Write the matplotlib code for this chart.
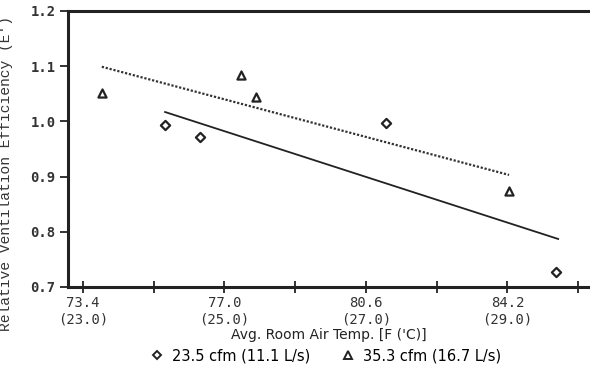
import matplotlib.pyplot as plt
from matplotlib.lines import Line2D

# Data
temp_low_flow = [75.49, 76.38, 81.10, 85.44]
eff_low_flow = [0.993, 0.972, 0.997, 0.727]
temp_high_flow = [73.88, 77.43, 77.81, 84.24]
eff_high_flow = [1.051, 1.084, 1.044, 0.874]

fit_low_x = [75.49, 85.49]
fit_low_y = [1.017, 0.787]
fit_high_x = [73.88, 84.24]
fit_high_y = [1.099, 0.903]

x_ticks = [73.4, 75.2, 77.0, 78.8, 80.6, 82.4, 84.2, 86.0]
x_tick_labels = ["73.4\n(23.0)", "", "77.0\n(25.0)", "", "80.6\n(27.0)", "",
                 "84.2\n(29.0)", ""]
y_ticks = [0.7, 0.8, 0.9, 1.0, 1.1, 1.2]
y_tick_labels = ["0.7", "0.8", "0.9", "1.0", "1.1", "1.2"]

label_low = "23.5 cfm (11.1 L/s)"
label_high = "35.3 cfm (16.7 L/s)"

plt.rcParams["font.family"] = ["DejaVu Sans Mono"]

fig = plt.figure(figsize=(5.9, 3.74), dpi=100)
ax = fig.add_axes([68 / 590, 1 - 287 / 374, 522 / 590, 276 / 374])

ax.plot(fit_high_x, fit_high_y, color="#333333", lw=1.6, linestyle=(0, (1, 0.8)))
ax.plot(fit_low_x, fit_low_y, color="#222222", lw=1.3)
ax.scatter(temp_low_flow, eff_low_flow, marker="D", s=22, facecolors="white",
           edgecolors="#222222", linewidths=1.6, zorder=3)
ax.scatter(temp_high_flow, eff_high_flow, marker="^", s=34, facecolors="white",
           edgecolors="#222222", linewidths=1.6, zorder=3)

ax.set_xlim(73.02, 86.3)
ax.set_ylim(0.7, 1.2)
ax.set_xticks(x_ticks)
ax.set_xticklabels(x_tick_labels, fontsize=10, color="#333333", linespacing=1.2)
ax.set_yticks(y_ticks)
ax.set_yticklabels(y_tick_labels, fontsize=10, fontweight="bold", color="#333333")

ax.spines["right"].set_visible(False)
for side in ["left", "bottom", "top"]:
    ax.spines[side].set_linewidth(2.2)
    ax.spines[side].set_color("#222222")

ax.tick_params(axis="x", direction="inout", length=9, width=1.4, pad=2,
               color="#333333")
ax.tick_params(axis="y", direction="out", length=6, width=1.4, pad=3,
               color="#333333")

ax.set_xlabel("Avg. Room Air Temp. [F ('C)]", fontsize=10, color="#222222",
              fontfamily="DejaVu Sans", labelpad=1)
ax.set_ylabel("Relative Ventilation Efficiency (E')", fontsize=10.5,
              color="#333333", fontfamily="Liberation Mono")
ax.yaxis.set_label_coords(-0.105, 0.41)

handles = [
    Line2D([], [], marker="D", linestyle="none", markersize=4.5,
           markerfacecolor="white", markeredgecolor="#222222",
           markeredgewidth=1.4, label=label_low),
    Line2D([], [], marker="^", linestyle="none", markersize=6,
           markerfacecolor="white", markeredgecolor="#222222",
           markeredgewidth=1.4, label=label_high),
]
fig.legend(handles=handles, loc="center", bbox_to_anchor=(326 / 590, 1 - 356 / 374),
           ncol=2, frameon=False, handlelength=0.8,
           handletextpad=0.6, columnspacing=2.2,
           prop={"family": "DejaVu Sans", "size": 10.5})

fig.savefig("out.png", dpi=100, facecolor="white")
